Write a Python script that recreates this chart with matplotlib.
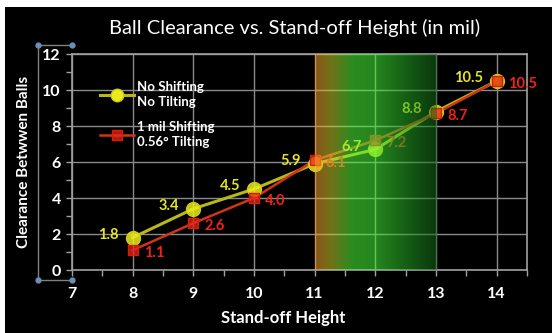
import numpy as np
import matplotlib
matplotlib.use("Agg")
import matplotlib.pyplot as plt
from matplotlib.patches import Rectangle
from matplotlib.lines import Line2D

x = [8, 9, 10, 11, 12, 13, 14]
no_shift = [1.8, 3.4, 4.5, 5.9, 6.7, 8.8, 10.5]
shift = [1.1, 2.6, 4.0, 6.1, 7.2, 8.7, 10.5]
label_a = "No Shifting\nNo Tilting"
label_b = "1 mil Shifting\n0.56° Tilting"
title = "Ball Clearance vs. Stand-off Height (in mil)"
xlabel = "Stand-off Height"
ylabel = "Clearance Betwwen Balls"

plt.rcParams['font.family'] = ['Lato', 'DejaVu Sans']

fig = plt.figure(figsize=(5.54, 3.33), dpi=100, facecolor='white')
fig.patches.append(Rectangle((5/554, 0), 547/554, 1 - 7/333, transform=fig.transFigure,
                             facecolor='black', edgecolor='none', zorder=-10))
ax = fig.add_axes([72/554, 1 - 270/333, (527 - 72)/554, (270 - 54)/333])
ax.set_facecolor('black')

ax.set_xlim(7, 14.5)
ax.set_ylim(0, 12)
ax.set_xticks(range(7, 15))
ax.set_xticks(np.arange(7.5, 14.6, 1.0), minor=True)
ax.set_yticks(range(0, 13, 2))
ax.set_yticks(range(1, 13, 2), minor=True)
ax.grid(True, which='major', color='#8a8a8a', linewidth=1.0)
ax.set_axisbelow(True)
for s in ax.spines.values():
    s.set_color('#a0a0a0')
    s.set_linewidth(1.2)
ax.tick_params(which='both', colors='#a0a0a0', direction='out', length=4, width=1)
ax.tick_params(axis='x', which='major', labelcolor='white', labelsize=11.5, pad=8)
ax.tick_params(axis='y', which='major', labelcolor='white', labelsize=11.5, pad=4)
for lab in ax.get_xticklabels() + ax.get_yticklabels():
    lab.set_fontweight('bold')

# series
ax.plot(x, no_shift, color='#b8b818', linewidth=2.2, zorder=3)
ax.plot(x, no_shift, linestyle='none', marker='o', markersize=10,
        markerfacecolor=(0.92, 0.92, 0.1, 0.85), markeredgecolor=(0.8, 0.8, 0.1), zorder=4)
ax.plot(x, shift, color='#d23418', linewidth=1.8, zorder=3)
ax.plot(x, shift, linestyle='none', marker='s', markersize=7.5,
        markerfacecolor=(0.9, 0.15, 0.1, 0.75), markeredgecolor=(0.85, 0.1, 0.05), zorder=5)

for xi, v in zip(x, no_shift):
    ax.annotate(f"{v:.1f}", (xi, v), xytext=(-10, 2), textcoords='offset points',
                ha='right', va='center', color='#e6e61e', fontsize=10.5, fontweight='bold', zorder=6)
for xi, v in zip(x, shift):
    ax.annotate(f"{v:.1f}", (xi, v), xytext=(8, -2), textcoords='offset points',
                ha='left', va='center', color='#f0221a', fontsize=10.5, fontweight='bold', zorder=6)

# gradient overlay
alpha = 0.55
stops_x = [11.0, 11.25, 11.6, 12.0, 12.5, 13.0]
stops_c = [(155, 85, 22), (115, 115, 25), (45, 150, 32), (38, 135, 30), (22, 95, 22), (10, 55, 12)]
gx = np.linspace(11, 13, 200)
cols = np.array(stops_c, dtype=float) / 255.0 / alpha
cols = np.clip(cols, 0, 1)
img = np.zeros((1, gx.size, 4))
for k in range(3):
    img[0, :, k] = np.interp(gx, stops_x, cols[:, k])
img[0, :, 3] = alpha
ax.imshow(img, extent=[11, 13, 0, 12], aspect='auto', interpolation='bilinear', zorder=7)
ax.set_xlim(7, 14.5)
ax.set_ylim(0, 12)

# legend
h1 = Line2D([], [], color='#b8b818', linewidth=2.2, marker='o', markersize=9,
            markerfacecolor=(0.92, 0.92, 0.1), markeredgecolor=(0.8, 0.8, 0.1))
h2 = Line2D([], [], color='#d23418', linewidth=1.8, marker='s', markersize=7,
            markerfacecolor=(0.9, 0.15, 0.1, 0.75), markeredgecolor=(0.85, 0.1, 0.05))
leg = ax.legend([h1, h2], [label_a, label_b], loc='upper left', bbox_to_anchor=(0.035, 0.93),
                frameon=False, fontsize=9.5, labelspacing=1.0, handlelength=2.6, handletextpad=0.2)
for t in leg.get_texts():
    t.set_color('white')
    t.set_fontweight('bold')
    t.set_linespacing(1.3)

# selection box around y tick labels
xa, xb = 38/554, 72/554
ya, yb = 1 - 280/333, 1 - 45/333
fig.add_artist(Line2D([xa, xb], [yb, yb], transform=fig.transFigure, color='#808080', lw=1))
fig.add_artist(Line2D([xa, xb], [ya, ya], transform=fig.transFigure, color='#808080', lw=1))
fig.add_artist(Line2D([xa, xa], [ya, yb], transform=fig.transFigure, color='#808080', lw=1))
fig.add_artist(Line2D([xa, xb, xa, xb], [ya, ya, yb, yb], transform=fig.transFigure,
                      linestyle='none', marker='o', markersize=3.5, color='#6a8fb8'))

fig.text(295/554, 1 - 28/333, title, ha='center', va='center', color='white', fontsize=14.5)
fig.text(283/554, 1 - 318/333, xlabel, ha='center', va='center', color='white', fontsize=12, fontweight='bold')
fig.text(24/554, 1 - 162/333, ylabel, ha='center', va='center', color='white', fontsize=11,
         fontweight='bold', rotation=90)

fig.savefig('out.png', dpi=100, facecolor=fig.get_facecolor())
